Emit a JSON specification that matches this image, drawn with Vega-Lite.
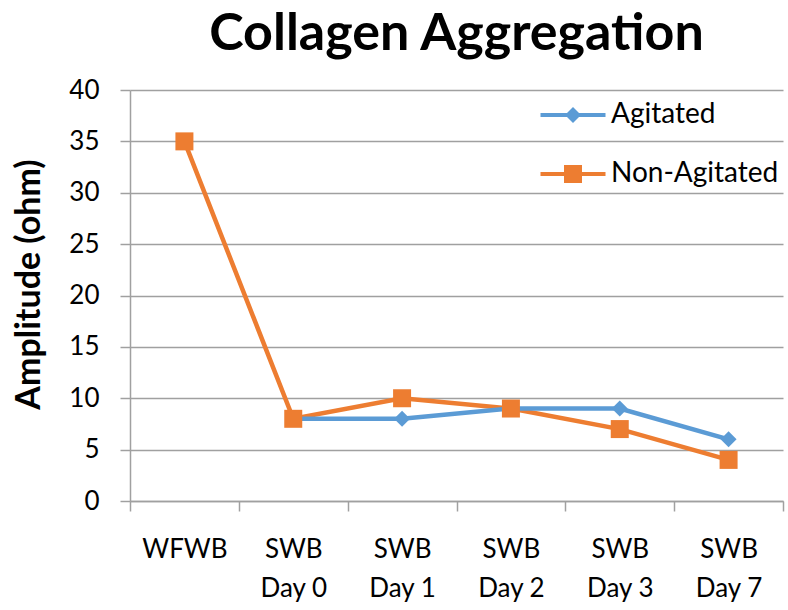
{
  "$schema": "https://vega.github.io/schema/vega-lite/v6.json",
  "width": 653,
  "height": 411,
  "autosize": {"type": "none"},
  "padding": {"left": 130, "top": 90, "right": 5, "bottom": 109},
  "background": "white",
  "config": {
    "font": "Lato",
    "view": {"stroke": null}
  },
  "title": {
    "text": "Collagen Aggregation",
    "font": "Lato",
    "fontSize": 52,
    "fontWeight": "bold",
    "color": "black",
    "anchor": "middle",
    "offset": 16
  },
  "data": {
    "values": [
      {"stage": "WFWB", "series": "Non-Agitated", "amp": 35},
      {"stage": "SWB Day 0", "series": "Agitated", "amp": 8},
      {"stage": "SWB Day 1", "series": "Agitated", "amp": 8},
      {"stage": "SWB Day 2", "series": "Agitated", "amp": 9},
      {"stage": "SWB Day 3", "series": "Agitated", "amp": 9},
      {"stage": "SWB Day 7", "series": "Agitated", "amp": 6},
      {"stage": "SWB Day 0", "series": "Non-Agitated", "amp": 8},
      {"stage": "SWB Day 1", "series": "Non-Agitated", "amp": 10},
      {"stage": "SWB Day 2", "series": "Non-Agitated", "amp": 9},
      {"stage": "SWB Day 3", "series": "Non-Agitated", "amp": 7},
      {"stage": "SWB Day 7", "series": "Non-Agitated", "amp": 4}
    ]
  },
  "encoding": {
    "x": {
      "field": "stage",
      "type": "nominal",
      "sort": ["WFWB", "SWB Day 0", "SWB Day 1", "SWB Day 2", "SWB Day 3", "SWB Day 7"],
      "scale": {"paddingInner": 0, "paddingOuter": 0},
      "axis": {
        "title": null,
        "labelAngle": 0,
        "labelExpr": "split(datum.label, ' ').length > 2 ? [split(datum.label, ' ')[0], split(datum.label, ' ')[1] + ' ' + split(datum.label, ' ')[2]] : datum.label",
        "labelFontSize": 26,
        "labelFont": "Lato",
        "labelColor": "black",
        "labelLineHeight": 39,
        "labelBaseline": "top",
        "labelPadding": 25,
        "tickBand": "extent",
        "tickSize": 10,
        "tickColor": "#A0A0A0",
        "tickWidth": 1.5,
        "domainColor": "#A0A0A0",
        "domainWidth": 1.5,
        "grid": false
      }
    },
    "y": {
      "field": "amp",
      "type": "quantitative",
      "scale": {"domain": [0, 40], "nice": false},
      "axis": {
        "title": "Amplitude (ohm)",
        "titleFont": "Lato",
        "titleFontSize": 34,
        "titleFontWeight": "bold",
        "titleColor": "black",
        "titlePadding": 22,
        "titleY": 194,
        "values": [0, 5, 10, 15, 20, 25, 30, 35, 40],
        "labelFontSize": 26,
        "labelFont": "Lato",
        "labelColor": "black",
        "labelPadding": 21,
        "tickSize": 10,
        "tickColor": "#A0A0A0",
        "tickWidth": 1.5,
        "domainColor": "#A0A0A0",
        "domainWidth": 1.5,
        "gridColor": "#A0A0A0",
        "gridWidth": 1.5
      }
    }
  },
  "resolve": {
    "scale": {"shape": "independent", "size": "independent", "color": "independent"},
    "legend": {"color": "independent", "shape": "independent"}
  },
  "layer": [
    {
      "mark": {"type": "line", "strokeWidth": 4.5},
      "encoding": {
        "color": {
          "field": "series",
          "type": "nominal",
          "scale": {"domain": ["Agitated", "Non-Agitated"], "range": ["#5B9BD5", "#ED7D31"]},
          "legend": null
        }
      }
    },
    {
      "mark": {"type": "point", "filled": true, "opacity": 1},
      "encoding": {
        "color": {
          "field": "series",
          "type": "nominal",
          "scale": {"domain": ["Agitated", "Non-Agitated"], "range": ["#5B9BD5", "#ED7D31"]},
          "legend": null
        },
        "shape": {
          "field": "series",
          "type": "nominal",
          "scale": {"domain": ["Agitated", "Non-Agitated"], "range": ["diamond", "square"]},
          "legend": null
        },
        "size": {
          "field": "series",
          "type": "nominal",
          "scale": {"domain": ["Agitated", "Non-Agitated"], "range": [256, 324]},
          "legend": null
        }
      }
    },
    {
      "transform": [{"filter": "datum.amp < 0"}],
      "mark": {"type": "point", "filled": true, "opacity": 1},
      "encoding": {
        "color": {
          "field": "series",
          "type": "nominal",
          "scale": {"domain": ["Agitated", "Non-Agitated"], "range": ["#5B9BD5", "#ED7D31"]},
          "legend": {
            "title": null,
            "orient": "none",
            "legendX": 429,
            "legendY": 11,
            "padding": 0,
            "symbolSize": 400,
            "symbolStrokeWidth": 0,
            "symbolOpacity": 1,
            "labelOffset": 24,
            "labelFontSize": 28,
            "labelFont": "Lato",
            "labelColor": "black",
            "labelLimit": 0,
            "rowPadding": 31
          }
        },
        "shape": {
          "field": "series",
          "type": "nominal",
          "scale": {"domain": ["Agitated", "Non-Agitated"], "range": ["M-3.25,-0.2 L3.25,-0.2 L3.25,0.2 L-3.25,0.2 Z M0,-0.8 L0.8,0 L0,0.8 L-0.8,0 Z", "M-3.25,-0.2 L3.25,-0.2 L3.25,0.2 L-3.25,0.2 Z M-0.9,-0.9 L0.9,-0.9 L0.9,0.9 L-0.9,0.9 Z"]},
          "legend": {
            "title": null,
            "orient": "none",
            "legendX": 429,
            "legendY": 11,
            "padding": 0,
            "symbolSize": 400,
            "symbolStrokeWidth": 0,
            "symbolOpacity": 1,
            "labelOffset": 24,
            "labelFontSize": 28,
            "labelFont": "Lato",
            "labelColor": "black",
            "labelLimit": 0,
            "rowPadding": 31
          }
        }
      }
    }
  ]
}
